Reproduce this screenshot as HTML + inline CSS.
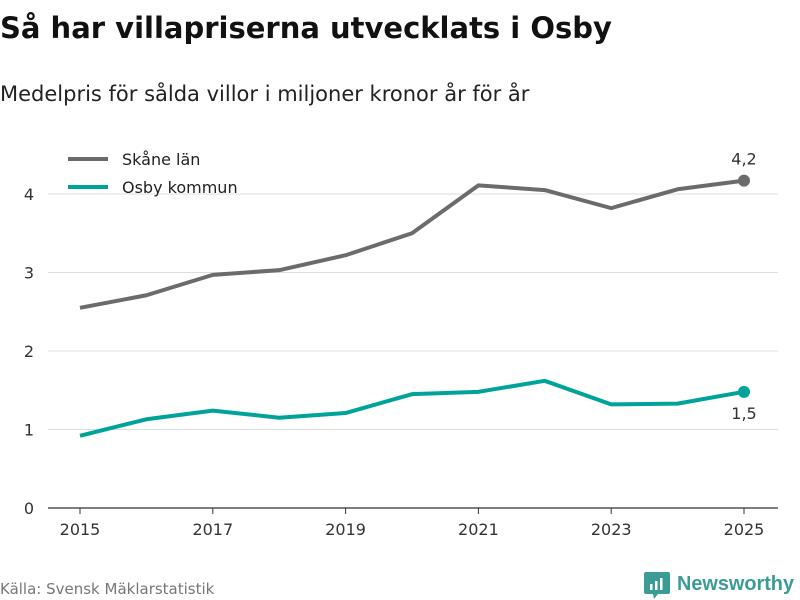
<!DOCTYPE html>
<html><head><meta charset="utf-8"><style>
body{margin:0;background:#fff;font-family:"DejaVu Sans","Liberation Sans",sans-serif;}
svg{display:block}
</style></head><body>
<svg width="800" height="600">
<text x="0" y="38" font-size="29" font-weight="bold" fill="#111">Så har villapriserna utvecklats i Osby</text>
<text x="0" y="101" font-size="21" fill="#222">Medelpris för sålda villor i miljoner kronor år för år</text>
<g id="grid"></g>
<g id="axes"></g>
<g id="series"></g>
<g>
<g><line x1="68" y1="159" x2="108" y2="159" stroke="#6b6b6b" stroke-width="4"/><text x="122" y="165" font-size="16" fill="#222">Skåne län</text></g>
<g><line x1="68" y1="187" x2="108" y2="187" stroke="#00a39a" stroke-width="4"/><text x="122" y="193" font-size="16" fill="#222">Osby kommun</text></g>
</g>
<text x="0" y="594" font-size="15" fill="#777">Källa: Svensk Mäklarstatistik</text>
<g>
<path d="M646 572 h22 a2 2 0 0 1 2 2 v18 a2 2 0 0 1 -2 2 h-10 l-4 5 l-1 -5 h-7 a2 2 0 0 1 -2 -2 v-18 a2 2 0 0 1 2 -2z" fill="#3a9c94"/>
<rect x="650" y="584" width="2.5" height="6" fill="#fff"/><rect x="655" y="581" width="2.5" height="9" fill="#fff"/><rect x="660" y="578" width="2.5" height="12" fill="#fff"/>
<text x="677" y="590" font-size="20" font-weight="bold" fill="#3a9c94" textLength="117" lengthAdjust="spacingAndGlyphs" font-family="Liberation Sans, sans-serif">Newsworthy</text>
</g>
</svg>
<script>
const years=[2015,2016,2017,2018,2019,2020,2021,2022,2023,2024,2025];
const skane=[2.55,2.71,2.97,3.03,3.22,3.50,4.11,4.05,3.82,4.06,4.17];
const osby=[0.92,1.13,1.24,1.15,1.21,1.45,1.48,1.62,1.32,1.33,1.48];
const yTicks=[0,1,2,3,4];
const xTicks=[2015,2017,2019,2021,2023,2025];
const NS="http://www.w3.org/2000/svg";
const x=v=>80+(v-2015)*66.4;
const y=v=>508-v*78.5;
function mk(tag,attrs,parent){const e=document.createElementNS(NS,tag);for(const k in attrs)e.setAttribute(k,attrs[k]);parent.appendChild(e);return e;}
const grid=document.getElementById('grid'),axes=document.getElementById('axes'),ser=document.getElementById('series');
yTicks.forEach(t=>{
 const l=mk('line',{x1:48,x2:778,y1:y(t),y2:y(t),stroke:t===0?'#333':'#ddd','stroke-width':t===0?1.3:1},grid);
 
 
 const tx=mk('text',{x:34,y:y(t)+6,'font-size':16,fill:'#333','text-anchor':'end'},axes);tx.textContent=t;
 
 
});
xTicks.forEach(t=>{
 const l=mk('line',{x1:x(t),x2:x(t),y1:508,y2:514,stroke:'#333'},axes);
 
 
 const tx=mk('text',{x:x(t),y:535,'font-size':16,fill:'#333','text-anchor':'middle'},axes);tx.textContent=t;
 
 
});
function line(vals,color,name,labelDy){
 const p=mk('polyline',{points:vals.map((v,i)=>x(years[i])+','+y(v)).join(' '),fill:'none',stroke:color,'stroke-width':4,'stroke-linejoin':'round'},ser);
 
 
 const n=vals.length-1;
 const c=mk('circle',{cx:x(years[n]),cy:y(vals[n]),r:6,fill:color},ser);
 
 
 const tx=mk('text',{x:x(years[n]),y:y(vals[n])+labelDy,'font-size':16,fill:'#333','text-anchor':'middle'},ser);
 tx.textContent=vals[n].toFixed(1).replace('.',',');
 
 
}
line(skane,'#6b6b6b','skane',-16);
line(osby,'#00a39a','osby',27);
</script>
</body></html>
